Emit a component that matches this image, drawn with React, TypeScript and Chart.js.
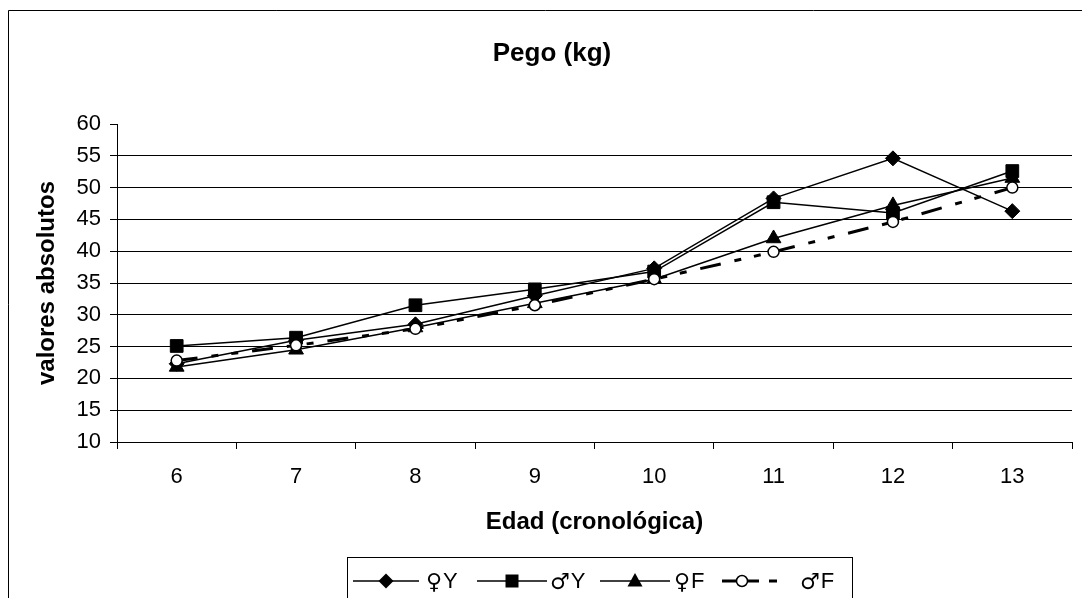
import React, { useEffect, useRef } from "react";
import { Chart, registerables } from "chart.js";

Chart.register(...registerables);

const categories = ["6", "7", "8", "9", "10", "11", "12", "13"];
const femY = [22.3, 26.0, 28.5, 33.0, 37.3, 48.3, 54.6, 46.3];
const masY = [25.1, 26.4, 31.5, 34.0, 36.8, 47.7, 46.0, 52.6];
const femF = [21.8, 24.5, 28.0, 31.8, 35.6, 42.0, 47.2, 51.5];
const masF = [22.8, 25.2, 27.8, 31.5, 35.6, 39.9, 44.6, 50.0];
const seriesSymbols = ["\u2640", "\u2642", "\u2640", "\u2642"];
const seriesLetters = ["Y", "Y", "F", "F"];
const seriesNames = seriesSymbols.map((s, i) => s + seriesLetters[i]);
const yMin = 10;
const yMax = 60;
const yStep = 5;
const chartTitle = "Pego (kg)";
const xTitle = "Edad (cronológica)";
const yTitle = "valores absolutos";

const FONT = "'Liberation Sans', Arial, sans-serif";
const SYM_FONT = "'DejaVu Sans', 'Noto Sans', sans-serif";

function drawMarker(ctx: CanvasRenderingContext2D, style: string, x: number, y: number) {
  ctx.save();
  ctx.fillStyle = "#000";
  ctx.strokeStyle = "#000";
  ctx.lineWidth = 1;
  ctx.setLineDash([]);
  ctx.beginPath();
  if (style === "rectRot") {
    const r = 7.5;
    ctx.moveTo(x, y - r);
    ctx.lineTo(x + r, y);
    ctx.lineTo(x, y + r);
    ctx.lineTo(x - r, y);
    ctx.closePath();
    ctx.fill();
  } else if (style === "rect") {
    ctx.rect(x - 6.5, y - 6.5, 13, 13);
    ctx.fill();
  } else if (style === "triangle") {
    ctx.moveTo(x, y - 8);
    ctx.lineTo(x + 7.5, y + 5.5);
    ctx.lineTo(x - 7.5, y + 5.5);
    ctx.closePath();
    ctx.fill();
  } else {
    ctx.fillStyle = "#fff";
    ctx.lineWidth = 1.5;
    ctx.arc(x, y, 5.5, 0, Math.PI * 2);
    ctx.fill();
    ctx.stroke();
  }
  ctx.restore();
}

const decorPlugin = {
  id: "decor",
  beforeDraw(chart: any) {
    const ctx = chart.ctx as CanvasRenderingContext2D;
    ctx.save();
    ctx.fillStyle = "#fff";
    ctx.fillRect(0, 0, chart.width, chart.height);
    ctx.strokeStyle = "#000";
    ctx.lineWidth = 1;
    ctx.beginPath();
    ctx.moveTo(8.5, chart.height);
    ctx.lineTo(8.5, 10.5);
    ctx.lineTo(chart.width, 10.5);
    ctx.stroke();
    ctx.fillStyle = "#000";
    ctx.font = `bold 26px ${FONT}`;
    ctx.textAlign = "center";
    ctx.textBaseline = "middle";
    ctx.fillText(chartTitle, 552, 54);
    ctx.restore();
  },
  afterDraw(chart: any) {
    const ctx = chart.ctx as CanvasRenderingContext2D;
    ctx.save();
    ctx.strokeStyle = "#000";
    ctx.lineWidth = 1;
    ctx.strokeRect(347.5, 557.5, 505, 60);
    const cy = 581;
    const styles = ["rectRot", "rect", "triangle", "circle"];
    const lines = [
      [353, 419],
      [477, 547],
      [600, 670],
    ];
    const textX = [426, 550, 674, 800];
    for (let i = 0; i < 3; i++) {
      ctx.beginPath();
      ctx.lineWidth = 1.5;
      ctx.moveTo(lines[i][0], cy);
      ctx.lineTo(lines[i][1], cy);
      ctx.stroke();
      drawMarker(ctx, styles[i], (lines[i][0] + lines[i][1]) / 2, cy);
    }
    ctx.beginPath();
    ctx.lineWidth = 3;
    ctx.moveTo(722, cy);
    ctx.lineTo(759, cy);
    ctx.moveTo(769, cy);
    ctx.lineTo(777, cy);
    ctx.stroke();
    drawMarker(ctx, "circle", 742, cy);
    ctx.fillStyle = "#000";
    ctx.textAlign = "left";
    ctx.textBaseline = "middle";
    for (let i = 0; i < 4; i++) {
      ctx.font = `22px ${SYM_FONT}`;
      ctx.fillText(seriesSymbols[i], textX[i], cy + 2);
      const w = ctx.measureText(seriesSymbols[i]).width;
      ctx.font = `22px ${FONT}`;
      ctx.fillText(seriesLetters[i], textX[i] + w + 1, cy + 1);
    }
    ctx.restore();
  },
};

export default function App() {
  const ref = useRef<HTMLCanvasElement | null>(null);
  useEffect(() => {
    document.body.style.margin = "0";
    if (!ref.current) return;
    Chart.defaults.font.family = FONT;
    const common = {
      borderColor: "#000",
      backgroundColor: "#000",
      pointBorderColor: "#000",
      pointBackgroundColor: "#000",
      borderWidth: 1.5,
      pointBorderWidth: 1,
      fill: false,
      tension: 0,
    };
    const chart = new Chart(ref.current, {
      type: "line",
      data: {
        labels: categories,
        datasets: [
          { ...common, label: seriesNames[0], data: femY, pointStyle: "rectRot", pointRadius: 7.5, order: 4 },
          { ...common, label: seriesNames[1], data: masY, pointStyle: "rect", pointRadius: 9, order: 3 },
          { ...common, label: seriesNames[2], data: femF, pointStyle: "triangle", pointRadius: 8.5, order: 2 },
          {
            ...common,
            label: seriesNames[3],
            data: masF,
            pointStyle: "circle",
            pointRadius: 5.5,
            pointBorderWidth: 1.5,
            pointBackgroundColor: "#fff",
            borderWidth: 3,
            borderDash: [21, 14, 7, 13, 7, 14],
            order: 1,
          },
        ],
      },
      options: {
        responsive: false,
        animation: false,
        events: [],
        layout: { padding: { left: 10, top: 124, right: 4, bottom: 60 } },
        plugins: {
          legend: { display: false },
          title: { display: false },
          tooltip: { enabled: false },
        },
        scales: {
          x: {
            type: "category",
            offset: true,
            grid: {
              offset: true,
              drawOnChartArea: false,
              drawTicks: true,
              tickLength: 7,
              color: "#000",
              lineWidth: 1,
            },
            border: { color: "#000", width: 1 },
            ticks: { color: "#000", font: { size: 22 }, padding: 15, maxRotation: 0, autoSkip: false },
            title: {
              display: true,
              text: xTitle,
              color: "#000",
              font: { size: 24, weight: "bold" },
              padding: { top: 0, bottom: 1 },
            },
            afterFit: (scale: any) => {
              scale.height = 96;
            },
          },
          y: {
            min: yMin,
            max: yMax,
            ticks: { stepSize: yStep, color: "#000", font: { size: 22 }, padding: 9 },
            grid: {
              color: (c: any) => (c.tick && c.tick.value === yMax ? "rgba(0,0,0,0)" : "#000"),
              tickColor: "#000",
              tickLength: 7,
              lineWidth: 1,
            },
            border: { color: "#000", width: 1 },
            title: {
              display: true,
              text: yTitle,
              color: "#000",
              font: { size: 24, weight: "bold" },
              padding: { top: 23, bottom: 0 },
            },
            afterFit: (scale: any) => {
              scale.width = 107;
            },
          },
        },
      },
      plugins: [decorPlugin],
    } as any);
    return () => chart.destroy();
  }, []);
  return (
    <div style={{ position: "fixed", left: 0, top: 0, width: 1082, height: 598 }}>
      <canvas ref={ref} width={1082} height={598} />
    </div>
  );
}
